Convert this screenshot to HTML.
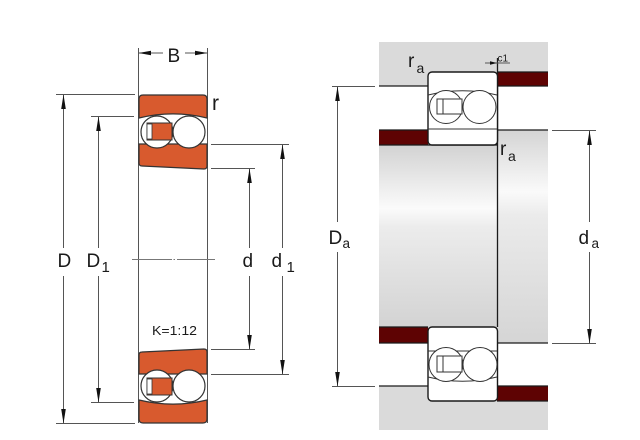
<!DOCTYPE html>
<html><head><meta charset="utf-8"><style>
html,body{margin:0;padding:0;background:#fff;}
svg{display:block;}
text{font-family:"Liberation Sans","DejaVu Sans",sans-serif;fill:#1a1a1a;}
</style></head><body>
<svg width="640" height="440" viewBox="0 0 640 440" xmlns="http://www.w3.org/2000/svg">
<defs>
<linearGradient id="gL" x1="0" y1="145" x2="0" y2="327" gradientUnits="userSpaceOnUse">
<stop offset="0" stop-color="#d2d2d2"/><stop offset="0.35" stop-color="#fbfbfb"/><stop offset="0.45" stop-color="#ececec"/><stop offset="1" stop-color="#d3d3d3"/>
</linearGradient>
<linearGradient id="gR" x1="0" y1="130" x2="0" y2="343" gradientUnits="userSpaceOnUse">
<stop offset="0" stop-color="#d4d4d4"/><stop offset="0.29" stop-color="#fafafa"/><stop offset="0.4" stop-color="#ebebeb"/><stop offset="1" stop-color="#d5d5d5"/>
</linearGradient>
<g id="lbs">
<!-- outer ring -->
<path d="M139,118 L139,99 Q139,95 143,95 L203,95 Q207,95 207,99 L207,118 A145,145 0 0 0 139,118 Z" fill="#d85a2e" stroke="#333" stroke-width="1.2"/>
<!-- inner ring -->
<path d="M139,144 L207,144 L207,166 Q207,169 204,169 L142,166 Q139,166 139,163 Z" fill="#d85a2e" stroke="#333" stroke-width="1.2"/>
<circle cx="157" cy="132" r="16" fill="#fff" stroke="#333" stroke-width="1.2"/>
<rect x="147" y="123" width="25" height="17" fill="#d85a2e" stroke="#333" stroke-width="1"/>
<rect x="147" y="124" width="5" height="15" fill="#fff" stroke="#333" stroke-width="0.8"/>
<circle cx="189" cy="132" r="16" fill="#fff" stroke="#333" stroke-width="1.2"/>
</g>
</defs>

<!-- ============ LEFT DRAWING ============ -->
<g stroke="#555" stroke-width="1" fill="none">
<!-- B extension + bore side lines -->
<line x1="138.5" y1="48" x2="138.5" y2="423"/>
<line x1="207.5" y1="48" x2="207.5" y2="423"/>
<!-- B dim line -->
<line x1="138.5" y1="53" x2="163" y2="53"/>
<line x1="185" y1="53" x2="207.5" y2="53"/>
<!-- extension lines -->
<line x1="56" y1="94.5" x2="135" y2="94.5"/>
<line x1="56" y1="423.5" x2="135" y2="423.5"/>
<line x1="91" y1="116.5" x2="134" y2="116.5"/>
<line x1="91" y1="402.5" x2="134" y2="402.5"/>
<line x1="211" y1="144.5" x2="289" y2="144.5"/>
<line x1="211" y1="374.5" x2="289" y2="374.5"/>
<line x1="211" y1="168.5" x2="255" y2="168.5"/>
<line x1="211" y1="349.5" x2="255" y2="349.5"/>
<!-- dim lines -->
<line x1="63.5" y1="94" x2="63.5" y2="248"/><line x1="63.5" y1="276" x2="63.5" y2="423"/>
<line x1="98.5" y1="116" x2="98.5" y2="248"/><line x1="98.5" y1="276" x2="98.5" y2="402"/>
<line x1="249.5" y1="168" x2="249.5" y2="248"/><line x1="249.5" y1="276" x2="249.5" y2="349"/>
<line x1="282.5" y1="144" x2="282.5" y2="248"/><line x1="282.5" y1="276" x2="282.5" y2="374"/>
<!-- centerline -->
<line x1="132" y1="259.5" x2="172" y2="259.5" stroke="#777"/>
<line x1="173.5" y1="259.5" x2="175" y2="259.5" stroke="#777"/>
<line x1="177" y1="259.5" x2="215" y2="259.5" stroke="#777"/>
</g>
<!-- arrowheads -->
<g fill="#111">
<polygon points="138.5,53 151,50.8 151,55.2"/>
<polygon points="207.5,53 195,50.8 195,55.2"/>
<polygon points="63.5,94.5 61.2,109 65.8,109"/>
<polygon points="63.5,423.5 61.2,409 65.8,409"/>
<polygon points="98.5,116.5 96.2,131 100.8,131"/>
<polygon points="98.5,402.5 96.2,388 100.8,388"/>
<polygon points="249.5,168.5 247.2,183 251.8,183"/>
<polygon points="249.5,349.5 247.2,335 251.8,335"/>
<polygon points="282.5,144.5 280.2,159 284.8,159"/>
<polygon points="282.5,374.5 280.2,360 284.8,360"/>
</g>
<!-- bearings -->
<use href="#lbs"/>
<use href="#lbs" transform="translate(0,518) scale(1,-1)"/>

<!-- labels left -->
<text x="167.5" y="62" font-size="19">B</text>
<text x="212" y="110" font-size="21">r</text>
<text x="57.5" y="267" font-size="19">D</text>
<text x="86.5" y="267" font-size="19">D</text>
<text x="101.5" y="272" font-size="15">1</text>
<text x="242.5" y="267" font-size="19">d</text>
<text x="271.5" y="267" font-size="19">d</text>
<text x="286.5" y="272" font-size="15">1</text>
<text x="152" y="335" font-size="13" textLength="45" lengthAdjust="spacingAndGlyphs">K=1:12</text>

<!-- ============ RIGHT DRAWING ============ -->
<rect x="379" y="42" width="169" height="388" fill="#dadada"/>
<rect x="379" y="86" width="169" height="44" fill="#fff"/>
<rect x="379" y="343" width="169" height="43" fill="#fff"/>
<rect x="379" y="145" width="118.5" height="182" fill="url(#gL)"/>
<rect x="497.5" y="130" width="50.5" height="213" fill="url(#gR)"/>
<!-- dark red -->
<rect x="497" y="72" width="51" height="14" fill="#5e0303"/>
<rect x="379" y="130" width="49" height="15" fill="#5e0303"/>
<rect x="379" y="327" width="49" height="16" fill="#5e0303"/>
<rect x="497" y="386" width="51" height="15" fill="#5e0303"/>
<g stroke="#1a1a1a" stroke-width="1.3" fill="none">
<line x1="497" y1="72" x2="548" y2="72"/>
<line x1="379" y1="86" x2="548" y2="86"/>
<line x1="379" y1="130" x2="548" y2="130"/>
<line x1="379" y1="145" x2="497" y2="145"/>
<line x1="497.5" y1="58" x2="497.5" y2="327"/>
<line x1="379" y1="327" x2="428" y2="327"/>
<line x1="379" y1="343" x2="548" y2="343"/>
<line x1="379" y1="386" x2="548" y2="386"/>
<line x1="497" y1="401" x2="548" y2="401"/>
</g>
<!-- right bearings -->
<rect x="428" y="72" width="69.5" height="73" rx="4" fill="#fff" stroke="#1a1a1a" stroke-width="1.4"/>
<g stroke="#333" stroke-width="1" fill="none">
<path d="M428,95 A145,145 0 0 1 497,95"/>
<line x1="428" y1="129" x2="497" y2="129"/>
</g>
<circle cx="446" cy="107" r="16.5" fill="#fff" stroke="#333" stroke-width="1"/>
<rect x="437" y="99" width="25" height="15" fill="#fff" stroke="#333" stroke-width="1"/>
<line x1="443" y1="99" x2="443" y2="114" stroke="#333" stroke-width="1"/>
<circle cx="479.5" cy="107" r="16.5" fill="#fff" stroke="#333" stroke-width="1"/>

<rect x="428" y="327" width="69.5" height="74" rx="4" fill="#fff" stroke="#1a1a1a" stroke-width="1.4"/>
<g stroke="#333" stroke-width="1" fill="none">
<path d="M428,377 A145,145 0 0 0 497,377"/>
<line x1="428" y1="351" x2="497" y2="351"/>
</g>
<circle cx="446" cy="364.5" r="17" fill="#fff" stroke="#333" stroke-width="1"/>
<rect x="437" y="356" width="25" height="16" fill="#fff" stroke="#333" stroke-width="1"/>
<line x1="443" y1="356" x2="443" y2="372" stroke="#333" stroke-width="1"/>
<circle cx="480" cy="364.5" r="17" fill="#fff" stroke="#333" stroke-width="1"/>

<!-- Da / da dims -->
<g stroke="#555" stroke-width="1" fill="none">
<line x1="332" y1="86.5" x2="375" y2="86.5"/>
<line x1="332" y1="386.5" x2="375" y2="386.5"/>
<line x1="337.5" y1="86" x2="337.5" y2="222"/><line x1="337.5" y1="252" x2="337.5" y2="386"/>
<line x1="552" y1="130.5" x2="596" y2="130.5"/>
<line x1="552" y1="343.5" x2="596" y2="343.5"/>
<line x1="589.5" y1="130" x2="589.5" y2="222"/><line x1="589.5" y1="252" x2="589.5" y2="343"/>
<line x1="485" y1="63" x2="510" y2="63"/>
</g>
<g fill="#111">
<polygon points="337.5,86.5 335.2,101 339.8,101"/>
<polygon points="337.5,386.5 335.2,372 339.8,372"/>
<polygon points="589.5,130.5 587.2,145 591.8,145"/>
<polygon points="589.5,343.5 587.2,329 591.8,329"/>
<polygon points="497,63 490,61.2 490,64.8"/>
</g>

<!-- labels right -->
<text x="408" y="67" font-size="19">r</text>
<text x="416.5" y="73" font-size="14">a</text>
<text x="500" y="155" font-size="19">r</text>
<text x="508" y="161" font-size="14">a</text>
<text x="497.5" y="61.5" font-size="10">c1</text>
<text x="328.5" y="244" font-size="19">D</text>
<text x="342.5" y="248" font-size="13.5">a</text>
<text x="578.5" y="244" font-size="19">d</text>
<text x="591.5" y="248" font-size="13.5">a</text>
</svg>
</body></html>
